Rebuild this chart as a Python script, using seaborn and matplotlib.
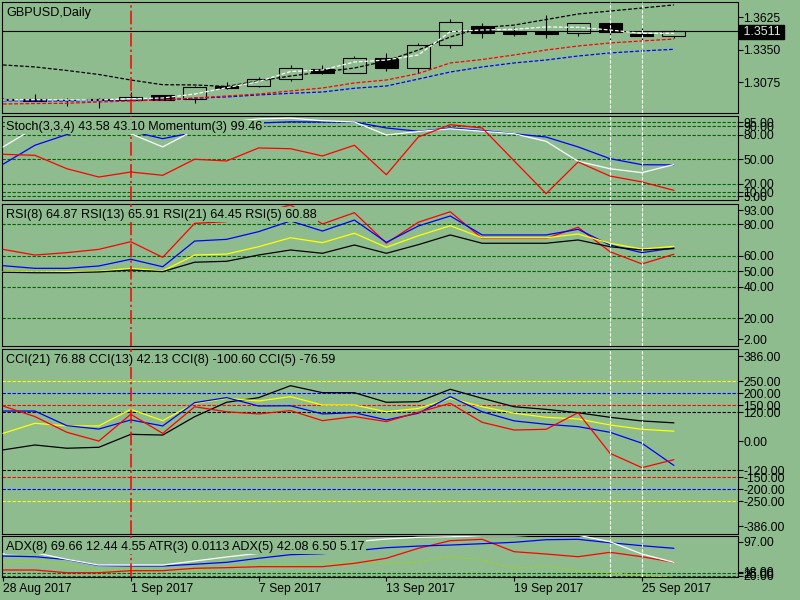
import numpy as np
import matplotlib
matplotlib.use('Agg')
import matplotlib.pyplot as plt
import seaborn as sns

# GBPUSD daily bars, 28 Aug - 26 Sep 2017
dates = ['28 Aug', '29 Aug', '30 Aug', '31 Aug', '1 Sep', '4 Sep', '5 Sep', '6 Sep', '7 Sep', '8 Sep',
         '11 Sep', '12 Sep', '13 Sep', '14 Sep', '15 Sep', '18 Sep', '19 Sep', '20 Sep', '21 Sep',
         '22 Sep', '25 Sep', '26 Sep']
opens = [1.2928, 1.2931, 1.2922, 1.2931, 1.2925, 1.2962, 1.2928, 1.3041, 1.3041, 1.3098, 1.3186,
         1.3154, 1.3277, 1.3190, 1.3390, 1.3551, 1.3503, 1.3497, 1.3489, 1.3574, 1.3486, 1.3466]
highs = [1.2940, 1.2971, 1.2942, 1.2935, 1.2990, 1.2967, 1.3041, 1.3075, 1.3120, 1.3220, 1.3217,
         1.3296, 1.3324, 1.3404, 1.3611, 1.3574, 1.3545, 1.3645, 1.3577, 1.3579, 1.3560, 1.3515]
lows = [1.2918, 1.2914, 1.2871, 1.2854, 1.2919, 1.2919, 1.2899, 1.3016, 1.3030, 1.3086, 1.3143,
        1.3149, 1.3171, 1.3154, 1.3367, 1.3452, 1.3466, 1.3447, 1.3466, 1.3432, 1.3418, 1.3447]
closes = [1.2925, 1.2916, 1.2921, 1.2918, 1.2945, 1.2925, 1.3030, 1.3024, 1.3098, 1.3192, 1.3154,
          1.3277, 1.3190, 1.3390, 1.3583, 1.3489, 1.3486, 1.3486, 1.3574, 1.3503, 1.3466, 1.3511]

# moving averages on the price chart
ma_white = [1.2922, 1.2925, 1.2922, 1.2922, 1.2933, 1.2939, 1.2973, 1.3027, 1.3078, 1.3164, 1.3177,
            1.3245, 1.3262, 1.3305, 1.3503, 1.3517, 1.3523, 1.3543, 1.3540, 1.3517, 1.3489, 1.3489]
ma_black = [1.3220, 1.3203, 1.3173, 1.3139, 1.3092, 1.3052, 1.3050, 1.3037, 1.3084, 1.3126, 1.3160,
            1.3194, 1.3254, 1.3347, 1.3458, 1.3538, 1.3559, 1.3606, 1.3653, 1.3678, 1.3704, 1.3730]
ma_red = [1.2888, 1.2892, 1.2894, 1.2905, 1.2914, 1.2922, 1.2939, 1.2956, 1.2973, 1.2999, 1.3024,
          1.3067, 1.3092, 1.3147, 1.3237, 1.3266, 1.3305, 1.3347, 1.3381, 1.3407, 1.3424, 1.3440]
ma_blue = [1.2916, 1.2914, 1.2914, 1.2916, 1.2919, 1.2922, 1.2937, 1.2948, 1.2965, 1.2979, 1.2990,
           1.3022, 1.3041, 1.3100, 1.3160, 1.3203, 1.3237, 1.3262, 1.3296, 1.3322, 1.3339, 1.3353]

# Stochastic / Momentum window
stoch_main = [64.9, 88.3, 95, 90, 81, 65, 85.5, 95, 99, 100, 96.8, 95.3, 79.5, 83.7, 87, 84, 81,
              71.8, 47.5, 38.5, 33.7, 43.6]
stoch_signal = [43.9, 67, 80, 90, 84, 75, 82.7, 90, 94, 95.5, 95.3, 95.3, 88, 84, 88, 85, 81, 77,
                65, 50.7, 43.4, 43.1]
momentum = [56, 54.8, 38.5, 28.4, 34.5, 30.5, 50, 47.9, 63.7, 62.8, 54, 67, 31.2, 77, 92, 88, 48,
            8.2, 46.7, 29.6, 22.4, 12.2]

# RSI window
rsi5 = [64.0, 60.4, 61.9, 64.0, 68.9, 58.9, 80.6, 81.7, 87.0, 92.3, 80.2, 87.4, 67.9, 81.3, 88.0,
        71.0, 71.0, 71.0, 78.1, 62.5, 54.7, 60.9]
rsi8 = [53.6, 51.9, 51.9, 53.4, 57.7, 52.9, 69.3, 70.4, 75.3, 82.1, 75.7, 82.7, 68.5, 78.9, 85.3,
        73.2, 73.2, 73.2, 76.8, 66.8, 61.9, 64.9]
rsi13 = [49.8, 49.6, 49.8, 50.0, 51.9, 50.2, 60.4, 61.0, 65.7, 71.4, 68.3, 74.3, 65.3, 72.7, 79.1,
         71.4, 71.4, 71.4, 73.8, 67.9, 64.2, 65.9]
rsi21 = [49.4, 49.1, 49.1, 49.6, 50.8, 49.8, 55.8, 56.4, 60.4, 63.6, 61.5, 66.8, 61.5, 67.0, 73.2,
         67.9, 67.9, 67.9, 70.0, 65.7, 63.6, 64.5]

# CCI window
cci21 = [-36, -15.4, -29, -25, 29, 26, 102.5, 162.5, 181.7, 231.7, 202.5, 202.5, 162.5, 165, 216.7,
         179, 144, 133, 119, 100, 84.6, 76.9]
cci13 = [33, 75, 64, 64, 133, 86, 158, 179, 168, 186, 151, 151, 123, 137, 179, 144, 117, 100, 93,
         68, 50, 42.1]
cci8 = [126, 126, 65, 51, 89, 64, 161, 182, 147, 148, 114, 119, 89, 117, 186, 123, 85, 71, 61, 37.5,
        -8, -100.6]
cci5 = [147, 103, 37.5, 1, 112.5, 33, 144, 123, 114, 128, 86, 103, 82, 121, 158, 79, 47, 50, 119,
        -50, -110, -76.6]

# ADX / ATR window
adx_white = [61.7, 64.2, 51.5, 40.5, 40.5, 40.5, 48.2, 56, 63, 70.8, 77.7, 85.4, 90.6, 94, 95, 96.4,
             96.4, 99, 98, 85.4, 61.7, 45.7]
adx_blue = [57.8, 56.5, 51, 39.6, 38.6, 38.6, 42, 45.7, 53.5, 60.4, 62.3, 68, 73.9, 77, 79, 81.6,
            84.3, 89.3, 90, 83.5, 77.7, 72.7]
adx_red = [30.9, 30.9, 25.7, 25.7, 29.6, 29.6, 34.2, 35.4, 37.3, 37.3, 37.3, 43.8, 53.5, 72.7, 87.4,
           90, 66.2, 61.7, 56.5, 65, 56.5, 45.7]
adx_yg = [45.7, 48.8, 40.5, 29.6, 32.2, 30.9, 30.9, 36.7, 40.5, 40.5, 43.8, 45.7, 43.8, 46.3, 57.8,
          50, 34.2, 38.6, 29.6, 25.7, 20, 17]

bg = '#8fbc8f'
lvl_green = '#006400'
dot = (0, (3, 1.5))

sns.set_theme(style='white', rc={'axes.facecolor': bg, 'figure.facecolor': bg,
                                 'axes.edgecolor': 'black', 'savefig.facecolor': bg})
plt.rcParams['font.family'] = ['Liberation Sans', 'DejaVu Sans']
plt.rcParams['font.size'] = 8.7

fig = plt.figure(figsize=(8, 6), dpi=100)
L, W = 0.0025, 0.919375
ax_main = fig.add_axes([L, 0.81167, W, 0.185])
ax_sto = fig.add_axes([L, 0.66667, W, 0.14])
ax_rsi = fig.add_axes([L, 0.42333, W, 0.2375])
ax_cci = fig.add_axes([L, 0.11, W, 0.30883])
ax_adx = fig.add_axes([L, 0.03883, W, 0.06833])
axes = [ax_main, ax_sto, ax_rsi, ax_cci, ax_adx]

idx = np.arange(len(dates))


def style_panel(ax, ylim, ticks, labels):
    ax.set_xlim(-0.03, 22.99)
    ax.set_ylim(*ylim)
    ax.yaxis.tick_right()
    ax.set_yticks(ticks)
    ax.set_yticklabels(labels)
    ax.tick_params(axis='y', direction='out', length=3.6, width=0.8, pad=0.5,
                   labelsize=8.7, colors='black', right=True, left=False)
    ax.tick_params(axis='x', bottom=False, labelbottom=False)
    for s in ax.spines.values():
        s.set_color('black')
        s.set_linewidth(0.8)
    ax.set_xlabel('')
    ax.set_ylabel('')
    ax.grid(False)


def panel_label(ax, s):
    # opaque box: the terminal hides indicator lines under the window caption
    ax.annotate(s, xy=(0, 1), xycoords='axes fraction', xytext=(3, -3.6),
                textcoords='offset points', ha='left', va='top', fontsize=9.1,
                color='black', zorder=10,
                bbox=dict(boxstyle='square,pad=0.1', fc=bg, ec='none'))


def line(ax, y, color, ls='-'):
    sns.lineplot(x=idx, y=y, color=color, linewidth=0.9, linestyle=ls, ax=ax, zorder=3)


# ---- price window
o, h, l, c = (np.array(v) for v in (opens, highs, lows, closes))
top = np.maximum(o, c)
bot = np.minimum(o, c)
ax_main.vlines(idx, top, h, color='black', lw=0.8, zorder=2)
ax_main.vlines(idx, l, bot, color='black', lw=0.8, zorder=2)
up = c >= o
ax_main.bar(idx[up], (c - o)[up], bottom=o[up], width=0.72, facecolor='none',
            edgecolor='black', linewidth=0.8, zorder=2)
ax_main.bar(idx[~up], (o - c)[~up], bottom=c[~up], width=0.72, facecolor='black',
            edgecolor='black', linewidth=0.8, zorder=2)
line(ax_main, ma_black, 'black', dot)
line(ax_main, ma_blue, 'blue', dot)
line(ax_main, ma_red, 'red', dot)
line(ax_main, ma_white, 'white', dot)
ax_main.axhline(closes[-1], color='black', lw=0.8, zorder=1)
style_panel(ax_main, (1.281155, 1.375505), [1.3075, 1.3350, 1.3625],
            ['1.3075', '1.3350', '1.3625'])
ax_main.annotate(' %.4f ' % closes[-1], xy=(1, closes[-1]), xycoords=ax_main.get_yaxis_transform(),
                 xytext=(1.5, -1), textcoords='offset points', ha='left', va='center',
                 fontsize=8.9, color='#dcebdc', annotation_clip=False,
                 bbox=dict(boxstyle='square,pad=0.05', fc='black', ec='black'))
panel_label(ax_main, 'GBPUSD,Daily')

# ---- stochastic window
sto_levels = [5, 10, 20, 50, 80, 90, 95]
for v in sto_levels:
    ax_sto.axhline(v, color=lvl_green, lw=0.8, ls=dot, zorder=1)
line(ax_sto, stoch_signal, 'blue')
line(ax_sto, stoch_main, 'white')
line(ax_sto, momentum, 'red')
style_panel(ax_sto, (0.49, 102.55), sto_levels, ['%.2f' % v for v in sto_levels])
panel_label(ax_sto, 'Stoch(3,3,4) 43.58 43.10 Momentum(3) 99.46')

# ---- RSI window
for v in [20, 40, 50, 60, 80]:
    ax_rsi.axhline(v, color=lvl_green, lw=0.8, ls=dot, zorder=1)
line(ax_rsi, rsi5, 'red')
line(ax_rsi, rsi8, 'blue')
line(ax_rsi, rsi13, 'yellow')
line(ax_rsi, rsi21, 'black')
style_panel(ax_rsi, (2.34, 93.27), [6.6, 20, 40, 50, 60, 80, 89],
            ['2.00', '20.00', '40.00', '50.00', '60.00', '80.00', '93.00'])
panel_label(ax_rsi, 'RSI(8) 64.87 RSI(13) 65.91 RSI(21) 64.45 RSI(5) 60.88')

# ---- CCI window
for v, col in [(250, 'yellow'), (200, 'blue'), (150, 'red'), (120, 'black')]:
    ax_cci.axhline(v, color=col, lw=0.8, ls=dot, zorder=1)
    ax_cci.axhline(-v, color=col, lw=0.8, ls=dot, zorder=1)
line(ax_cci, cci21, 'black')
line(ax_cci, cci13, 'yellow')
line(ax_cci, cci8, 'blue')
line(ax_cci, cci5, 'red')
cci_ticks = [-355, -250, -200, -150, -120, 0, 120, 150, 200, 250, 355]
cci_labels = ['-386.00', '-250.00', '-200.00', '-150.00', '-120.00', '0.00', '120.00',
              '150.00', '200.00', '250.00', '386.00']
style_panel(ax_cci, (-386.3, 385.8), cci_ticks, cci_labels)
panel_label(ax_cci, 'CCI(21) 76.88 CCI(13) 42.13 CCI(8) -100.60 CCI(5) -76.59')

# ---- ADX window
for v in [20, 25]:
    ax_adx.axhline(v, color=lvl_green, lw=0.8, ls=dot, zorder=1)
line(ax_adx, adx_yg, '#9acd32', dot)
line(ax_adx, adx_red, 'red')
line(ax_adx, adx_blue, 'blue')
line(ax_adx, adx_white, 'white')
style_panel(ax_adx, (18, 97), [20, 25, 27.6, 85.4], ['20.00', '25.00', '18.00', '97.00'])
panel_label(ax_adx, 'ADX(8) 69.66 12.44 4.55 ATR(3) 0.0113 ADX(5) 42.08 6.50 5.17')

tick_pos = [0, 4, 8, 12, 16, 20]
ax_adx.set_xticks(tick_pos)
ax_adx.set_xticklabels([dates[i] + ' 2017' for i in tick_pos])
ax_adx.tick_params(axis='x', bottom=True, labelbottom=True, direction='out', length=3,
                   width=0.8, pad=1.5, labelsize=8.7, colors='black')
plt.setp(ax_adx.get_xticklabels(), ha='left')

# vertical lines through all windows
for ax in axes:
    ax.axvline(4, color='#ff0000', lw=1.1, ls=(0, (9, 2, 1.5, 2)), zorder=4)
    ax.axvline(19, color='white', lw=0.8, ls=dot, zorder=4)
    ax.axvline(20, color='white', lw=0.8, ls=dot, zorder=4)

fig.savefig('out.png', dpi=100, facecolor=bg)
